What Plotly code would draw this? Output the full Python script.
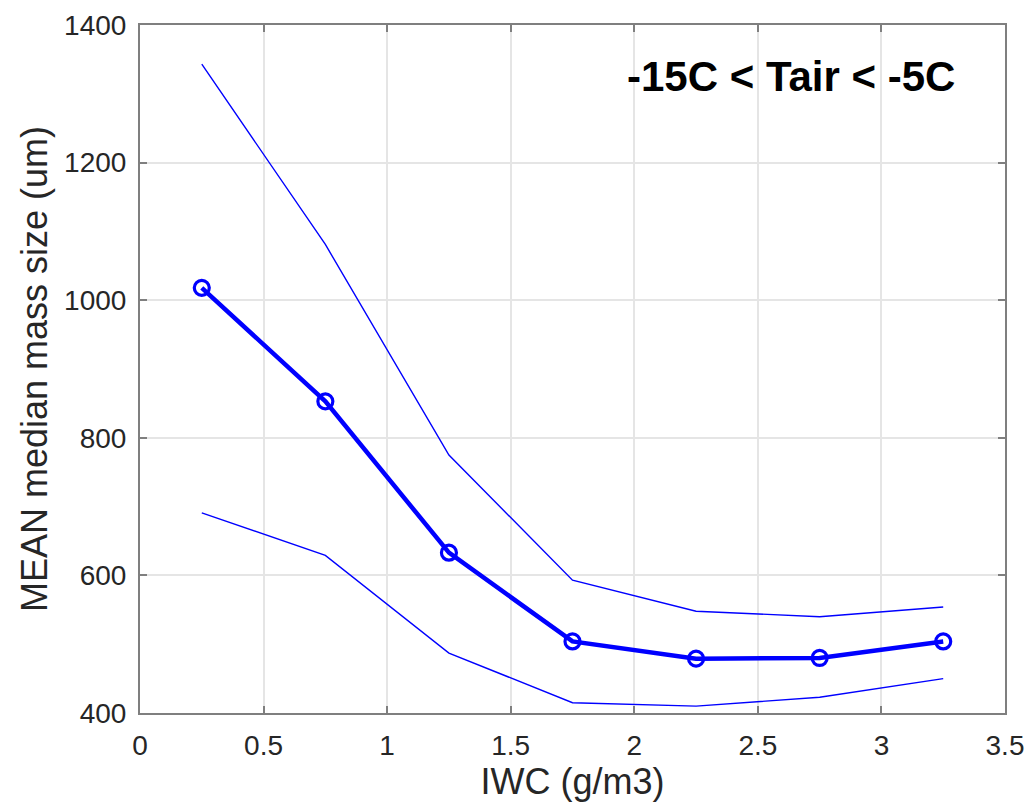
import plotly.graph_objects as go

iwc = [0.25, 0.75, 1.25, 1.75, 2.25, 2.75, 3.25]
mean_size = [1018, 853, 633, 504, 479, 480, 504]
upper_size = [1343, 1081, 775, 593, 548, 540, 554]
lower_size = [691, 629, 487, 415, 410, 423, 450]

x_ticks = [0, 0.5, 1, 1.5, 2, 2.5, 3, 3.5]
x_tick_labels = ["0", "0.5", "1", "1.5", "2", "2.5", "3", "3.5"]
y_ticks = [400, 600, 800, 1000, 1200, 1400]

blue = "#0000FF"
font_family = "Liberation Sans, Arial, Helvetica"
fig = go.Figure()
fig.add_trace(go.Scatter(x=iwc, y=upper_size, mode="lines",
                         line=dict(color=blue, width=1.4), showlegend=False))
fig.add_trace(go.Scatter(x=iwc, y=lower_size, mode="lines",
                         line=dict(color=blue, width=1.4), showlegend=False))
fig.add_trace(go.Scatter(x=iwc, y=mean_size, mode="lines+markers",
                         line=dict(color=blue, width=4.5),
                         marker=dict(symbol="circle-open", size=15, color=blue,
                                     line=dict(width=3.2, color=blue)),
                         showlegend=False))

axis_common = dict(showline=True, linecolor="#7F7F7F", linewidth=2, mirror="ticks",
                   ticks="inside", ticklen=7, tickcolor="#7F7F7F", tickwidth=1.5,
                   showgrid=True, gridcolor="#E5E5E5", gridwidth=1.5, zeroline=False,
                   automargin=False,
                   tickfont=dict(family=font_family, size=28, color="#262626"))

fig.update_layout(
    width=1035, height=808,
    margin=dict(l=132, r=38, t=17, b=103),
    plot_bgcolor="white", paper_bgcolor="white",
    xaxis=dict(range=[0, 3.5], tickvals=x_ticks, ticktext=x_tick_labels,
               ticklabelstandoff=6,
               title=dict(text="IWC (g/m3)", standoff=4,
                          font=dict(family=font_family, size=36, color="#262626")),
               **axis_common),
    yaxis=dict(range=[400, 1400], tickvals=y_ticks, ticklabelstandoff=6,
               title=dict(text="MEAN median mass size (um)", standoff=6,
                          font=dict(family=font_family, size=36, color="#262626")),
               **axis_common),
    annotations=[dict(text="<b>-15C < Tair < -5C</b>", xref="paper", yref="paper",
                      x=0.945, y=0.925, xanchor="right", yanchor="middle", showarrow=False,
                      font=dict(family=font_family, size=42, color="black"))],
)
fig.write_html("out.html")
